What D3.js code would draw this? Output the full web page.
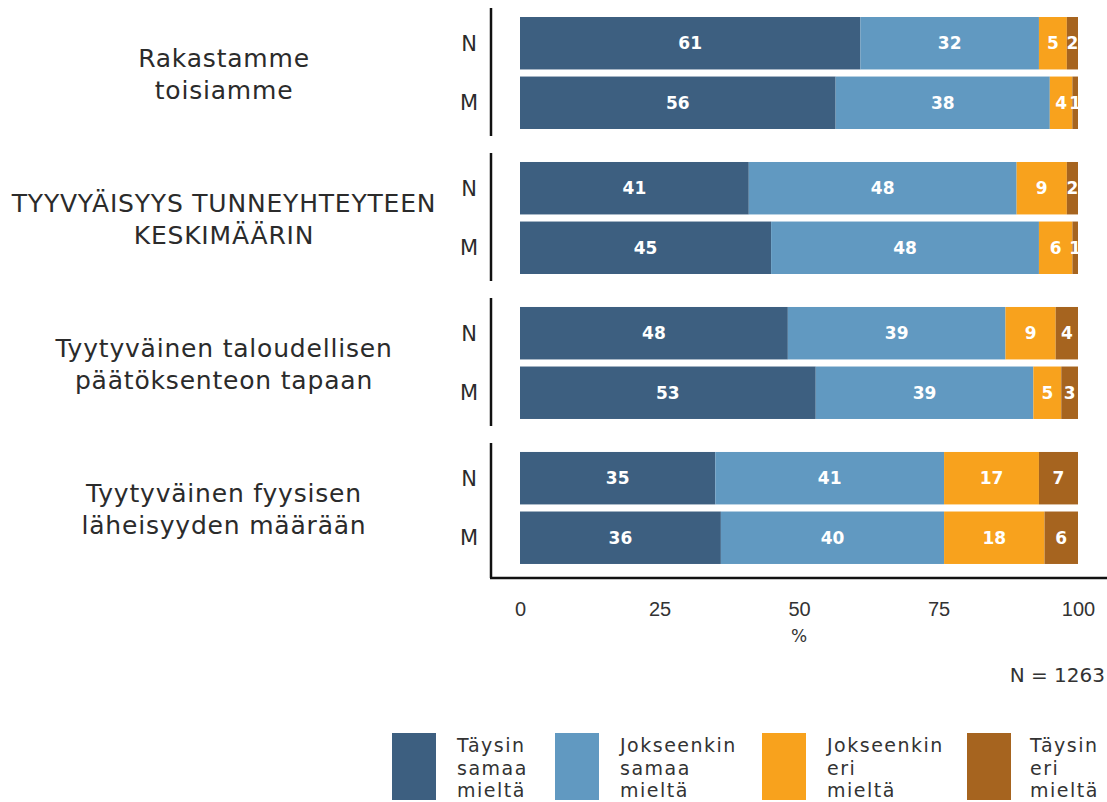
<!DOCTYPE html>
<html>
<head>
<meta charset="utf-8">
<script src="https://cdn.jsdelivr.net/npm/d3@7"></script>
<style>
  body { margin: 0; background: #fff; }
  svg { display: block; font-family: "DejaVu Sans", "Noto Sans", sans-serif; }
  .group__label { font-size: 25px; fill: #2b2b2b; letter-spacing: 0.8px; }
  .row__label { font-size: 21px; fill: #2b2b2b; }
  .bar__label { font-size: 17px; font-weight: 700; fill: #fff; }
  .xaxis__label { font-size: 20px; fill: #333; }
  .legend__label { font-size: 19px; fill: #333; letter-spacing: 1.5px; }
</style>
</head>
<body>
<svg class="likert-frame"></svg>
<script>
// categories
const groups = ["Rakastamme toisiamme", "TYYVYÄISYYS TUNNEYHTEYTEEN KESKIMÄÄRIN",
  "Tyytyväinen taloudellisen päätöksenteon tapaan", "Tyytyväinen fyysisen läheisyyden määrään"];
const groupLines = [
  ["Rakastamme", "toisiamme"],
  ["TYYVYÄISYYS TUNNEYHTEYTEEN", "KESKIMÄÄRIN"],
  ["Tyytyväinen taloudellisen", "päätöksenteon tapaan"],
  ["Tyytyväinen fyysisen", "läheisyyden määrään"]
];
const respondents = ["N", "M"];

// series (order: group1 N, group1 M, group2 N, ...)
const seriesKeys = ["taysinSamaa", "jokseenkinSamaa", "jokseenkinEri", "taysinEri"];
const seriesLines = [["Täysin", "samaa", "mieltä"], ["Jokseenkin", "samaa", "mieltä"],
  ["Jokseenkin", "eri", "mieltä"], ["Täysin", "eri", "mieltä"]];
const taysinSamaa = [61, 56, 41, 45, 48, 53, 35, 36];
const jokseenkinSamaa = [32, 38, 48, 48, 39, 39, 41, 40];
const jokseenkinEri = [5, 4, 9, 6, 9, 5, 17, 18];
const taysinEri = [2, 1, 2, 1, 4, 3, 7, 6];
const colors = ["#3d5f80", "#6199c1", "#f8a21d", "#a6641f"];

// axis
const tickValues = [0, 0.25, 0.5, 0.75, 1];
const tickLabels = ["0", "25", "50", "75", "100"];
const sampleNote = "N = 1263";

const width = 1107, height = 802;

const svg = d3.select(".likert-frame")
  .attr("width", width)
  .attr("height", height);

const rows = [];
groups.forEach((g, gi) => {
  respondents.forEach((r, ri) => {
    const i = gi * 2 + ri;
    rows.push({
      group: g, resp: r,
      taysinSamaa: taysinSamaa[i], jokseenkinSamaa: jokseenkinSamaa[i],
      jokseenkinEri: jokseenkinEri[i], taysinEri: taysinEri[i]
    });
  });
});

const stacked = d3.stack().keys(seriesKeys).offset(d3.stackOffsetExpand)(rows);

const xScale = d3.scaleLinear().domain([0, 1]).range([520, 1078]);
const groupScale = d3.scaleBand().domain(groups).range([8, 571]).paddingInner(0.117);
const rowScale = d3.scaleBand().domain(respondents).range([9, 121]).paddingInner(0.119);
const color = d3.scaleOrdinal().domain(seriesKeys).range(colors);

const axisY = 578;
const lineX = 491;

// facet panels
const panel = svg.selectAll(".panel")
  .data(groups)
  .enter().append("g")
  .attr("class", "panel")
  .attr("transform", d => "translate(0," + groupScale(d) + ")");

panel.append("line")
  .attr("x1", lineX).attr("x2", lineX)
  .attr("y1", 0)
  .attr("y2", (d, i) => i === groups.length - 1 ? axisY - groupScale(d) : groupScale.bandwidth())
  .attr("stroke", "#111")
  .attr("stroke-width", 2.5);

panel.append("text")
  .attr("class", "group__label")
  .attr("text-anchor", "middle")
  .selectAll("tspan")
  .data((d, i) => groupLines[i].map((t, k, a) => ({t, k, n: a.length})))
  .enter().append("tspan")
  .attr("x", 224)
  .attr("y", d => groupScale.bandwidth() / 2 + 2 + (d.k - (d.n - 1) / 2) * 32)
  .attr("dy", "0.35em")
  .text(d => d.t);

panel.selectAll(".row__label")
  .data(respondents)
  .enter().append("text")
  .attr("class", "row__label")
  .attr("x", 469)
  .attr("y", d => rowScale(d) + rowScale.bandwidth() / 2)
  .attr("dy", "0.35em")
  .attr("text-anchor", "middle")
  .text(d => d);

// bars
const yOf = d => groupScale(d.data.group) + rowScale(d.data.resp);

const layer = svg.selectAll(".layer")
  .data(stacked)
  .enter().append("g")
  .attr("class", "layer")
  .attr("fill", d => color(d.key));

layer.selectAll("rect")
  .data(d => d)
  .enter().append("rect")
  .attr("x", d => xScale(d[0]))
  .attr("width", d => xScale(d[1]) - xScale(d[0]))
  .attr("y", yOf)
  .attr("height", rowScale.bandwidth());

svg.append("clipPath").attr("id", "plot-clip")
  .append("rect").attr("x", xScale(0)).attr("y", 0)
  .attr("width", xScale(1) - xScale(0)).attr("height", axisY);

const labels = svg.append("g").attr("clip-path", "url(#plot-clip)");
stacked.forEach(s => {
  labels.selectAll(null)
    .data(s)
    .enter().append("text")
    .attr("class", "bar__label")
    .attr("x", d => (xScale(d[0]) + xScale(d[1])) / 2)
    .attr("y", d => yOf(d) + rowScale.bandwidth() / 2)
    .attr("dy", "0.36em")
    .attr("text-anchor", "middle")
    .text(d => d.data[s.key]);
});

// x axis
svg.append("line")
  .attr("x1", lineX - 1).attr("x2", width)
  .attr("y1", axisY).attr("y2", axisY)
  .attr("stroke", "#111")
  .attr("stroke-width", 2.5);

const xAxis = d3.axisBottom(xScale)
  .tickValues(tickValues)
  .tickSize(0)
  .tickPadding(24)
  .tickFormat((d, i) => tickLabels[i]);

svg.append("g")
  .attr("transform", "translate(0," + axisY + ")")
  .call(xAxis)
  .call(g => g.select(".domain").remove())
  .selectAll("text")
  .attr("class", "xaxis__label")
  .attr("font-family", null)
  .attr("font-size", null)
  .attr("fill", null);

svg.append("text")
  .attr("class", "xaxis__label")
  .attr("x", xScale(0.5))
  .attr("y", 636)
  .attr("dy", "0.35em")
  .attr("text-anchor", "middle")
  .style("font-size", "17px")
  .text("%");

svg.append("text")
  .attr("class", "xaxis__label")
  .attr("x", 1105)
  .attr("y", 675)
  .attr("dy", "0.35em")
  .attr("text-anchor", "end")
  .text(sampleNote);

// legend
const legendX = [392, 555, 762, 967];
const legend = svg.selectAll(".legend")
  .data(seriesKeys)
  .enter().append("g")
  .attr("class", "legend")
  .attr("transform", (d, i) => "translate(" + legendX[i] + ",733)");

legend.append("rect")
  .attr("width", 44)
  .attr("height", 67)
  .attr("fill", d => color(d));

legend.append("text")
  .attr("class", "legend__label")
  .selectAll("tspan")
  .data((d, i) => seriesLines[i])
  .enter().append("tspan")
  .attr("x", (d, i, n) => d3.select(n[i].parentNode.parentNode).datum() === "taysinEri" ? 63 : 65)
  .attr("y", (d, i) => 19 + i * 22.5)
  .text(d => d);
</script>
</body>
</html>
